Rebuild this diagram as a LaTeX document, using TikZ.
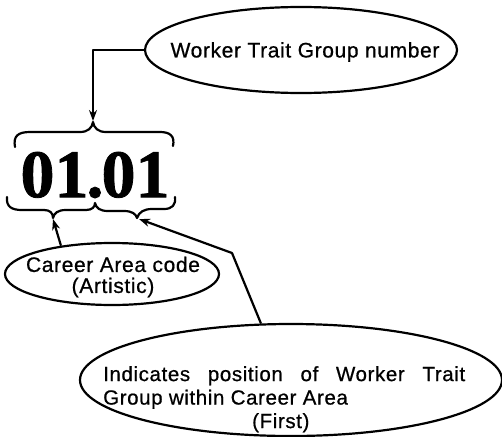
\documentclass[tikz,border=0pt]{standalone}
\usepackage{fontspec}
\setmainfont{Liberation Sans}[FakeBold=0.7, LetterSpace=3]
\newfontfamily\numfont{Liberation Serif Bold}[FakeBold=1.2]
\usetikzlibrary{shapes.geometric,arrows.meta}
\begin{document}
\begin{tikzpicture}[x=1pt,y=-1pt,
  bubble/.style={ellipse, draw, line width=2.2pt, inner sep=0pt},
  txt/.style={inner sep=0pt, font=\fontsize{21}{21}\selectfont},
  pointer/.style={line width=2.2pt, line join=round, -{Stealth[length=11pt,width=8pt]}},
  bracepath/.style={line width=2.2pt, line cap=round, line join=round}]
\useasboundingbox (0,0) rectangle (502,436);

% callout bubbles
\node[bubble, minimum width=312pt, minimum height=86pt] (wtg) at (301,50) {};
\node[txt] (wtgText) at (305,52) {Worker Trait Group number};

\node[bubble, minimum width=214pt, minimum height=62pt] (career) at (112,274) {};
\node[txt, align=center] (careerText) at (113,277) {Career Area code\\(Artistic)};

\node[bubble, minimum width=422pt, minimum height=112pt] (pos) at (291,380) {};
\node[txt, font=\fontsize{20.5}{23.5}\selectfont, align=left, anchor=north west] (posText) at (103,366)
  {\makebox[362pt][s]{Indicates position of Worker Trait}\\Group within Career Area\\\hspace*{149pt}(First)};

% the code number
\node[inner sep=0pt, font=\numfont\fontsize{68}{68}\selectfont] (code) at (95,175) {01\kern-2pt.\kern-2pt01};

% brace over the whole number
\draw[bracepath] (15,147) .. controls (13,136) and (18,132) .. (30,132) -- (80,132)
  .. controls (88,132) and (92,128) .. (93,122)
  .. controls (94,128) and (98,132) .. (106,132) -- (160,132)
  .. controls (170,132) and (175,136) .. (173,146);
% braces under the two digit pairs
\draw[bracepath] (7,197) .. controls (6,207) and (12,210) .. (22,210) -- (44,210)
  .. controls (50,210) and (53,213) .. (53,218)
  .. controls (54,213) and (58,210) .. (66,210) -- (86,210)
  .. controls (92,210) and (95,207) .. (95,203)
  .. controls (96,208) and (100,211) .. (108,211) -- (124,211)
  .. controls (132,211) and (136,214) .. (137,218)
  .. controls (139,212) and (144,209) .. (152,209) -- (164,209)
  .. controls (172,209) and (176,205) .. (175,197);

\coordinate (topTip) at (93,121);
\coordinate (leftTip) at (53,219);
\coordinate (rightTip) at (139,219);
\coordinate (bend) at (232,253);

% connectors
\draw[pointer] (wtg.west) -| (topTip);
\draw[pointer] (career.151) -- (leftTip);
\draw[pointer] (pos.118) -- (bend) -- (rightTip);
\end{tikzpicture}
\end{document}
